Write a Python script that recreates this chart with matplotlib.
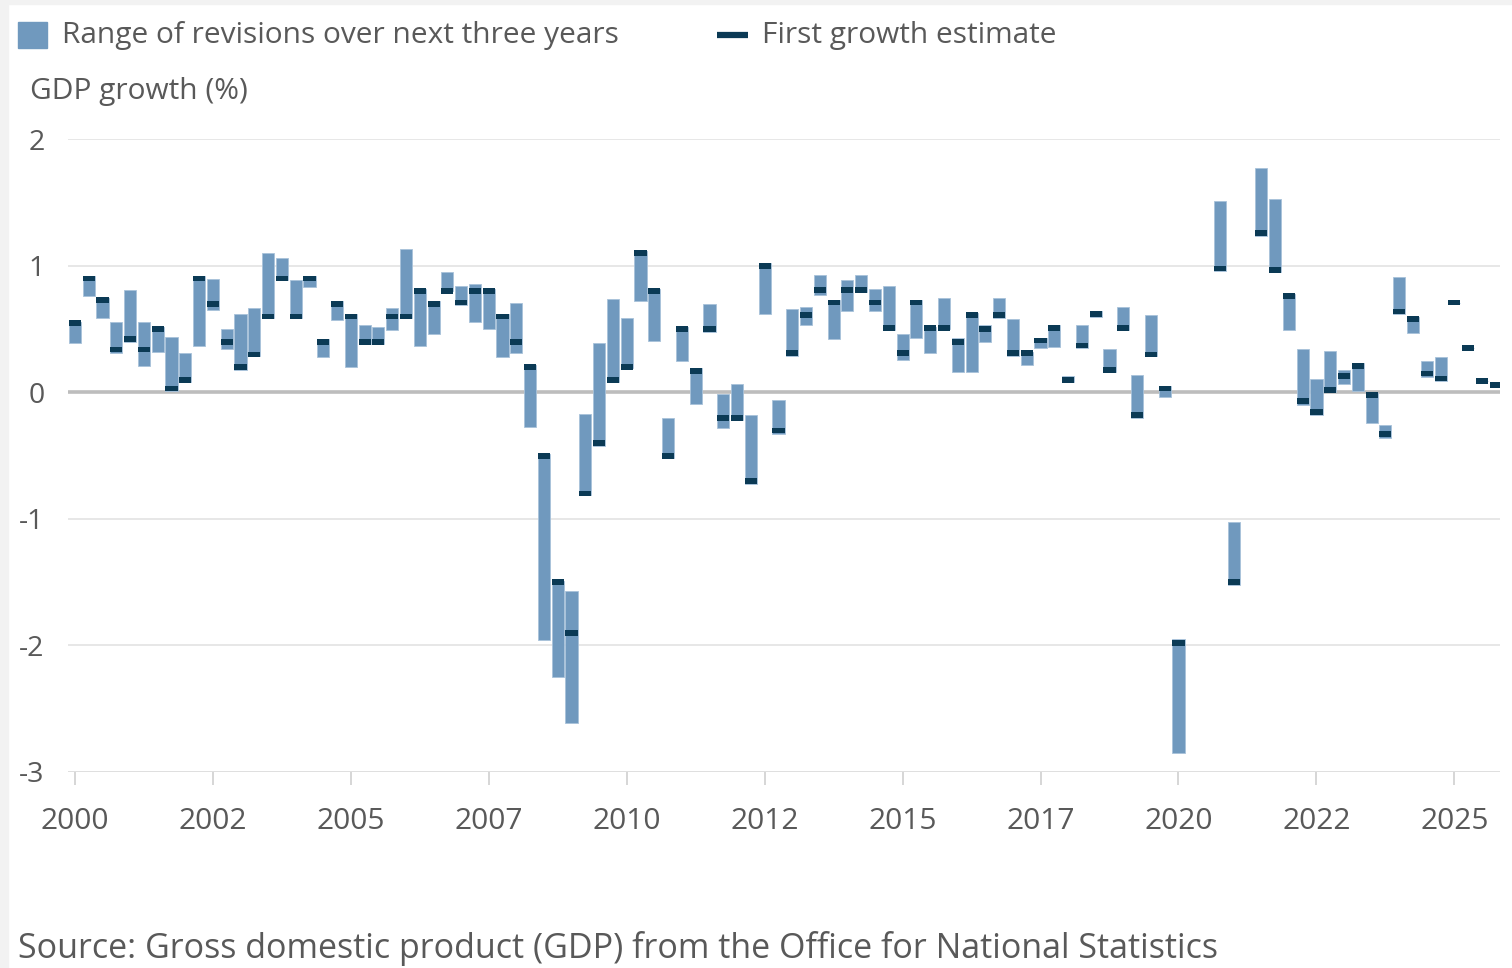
import numpy as np
import matplotlib.pyplot as plt
from matplotlib.patches import Rectangle
from matplotlib.lines import Line2D

plt.rcParams['font.family'] = ['Open Sans', 'DejaVu Sans']

# quarterly GDP growth, 2000 Q1 onwards (nan = off the chart)
low = [0.39, 0.76, 0.59, 0.31, 0.40, 0.21, 0.32, 0.01, 0.08, 0.37,
       0.65, 0.345, 0.18, 0.285, 0.59, 0.885, 0.59, 0.83, 0.28, 0.57,
       0.20, 0.385, 0.385, 0.495, 0.59, 0.37, 0.46, 0.80, 0.69, 0.56,
       0.50, 0.28, 0.31, -0.27, -1.96, -2.25, -2.61, -0.81, -0.42, 0.08,
       0.19, 0.72, 0.41, -0.52, 0.25, -0.09, 0.48, -0.28, -0.215, -0.72,
       0.62, -0.33, 0.285, 0.53, 0.77, 0.42, 0.645, 0.79, 0.645, 0.49,
       0.26, 0.43, 0.31, 0.50, 0.16, 0.16, 0.395, 0.59, 0.29, 0.22,
       0.35, 0.36, 0.08, 0.35, 0.60, 0.16, 0.49, -0.20, 0.285, -0.04,
       -2.85, np.nan, np.nan, 0.96, -1.525, np.nan, 1.24, 0.95, 0.495, -0.10,
       -0.18, 0.0, 0.07, 0.015, -0.24, -0.36, 0.62, 0.47, 0.125, 0.09,
       0.71, 0.35, 0.09, 0.06]
high = [0.56, 0.92, 0.75, 0.56, 0.81, 0.56, 0.52, 0.44, 0.31, 0.92,
        0.90, 0.50, 0.62, 0.67, 1.10, 1.06, 0.885, 0.92, 0.42, 0.72,
        0.62, 0.535, 0.52, 0.67, 1.135, 0.82, 0.72, 0.95, 0.84, 0.86,
        0.82, 0.62, 0.71, 0.22, -0.485, -1.49, -1.57, -0.17, 0.39, 0.735,
        0.59, 1.12, 0.82, -0.20, 0.52, 0.19, 0.70, -0.01, 0.07, -0.18,
        1.02, -0.06, 0.66, 0.675, 0.93, 0.73, 0.885, 0.93, 0.82, 0.84,
        0.46, 0.73, 0.52, 0.75, 0.43, 0.63, 0.53, 0.75, 0.58, 0.32,
        0.43, 0.53, 0.13, 0.53, 0.64, 0.34, 0.675, 0.14, 0.61, 0.05,
        -1.95, np.nan, np.nan, 1.51, -1.025, np.nan, 1.77, 1.53, 0.78, 0.34,
        0.11, 0.33, 0.18, 0.23, -0.005, -0.26, 0.91, 0.60, 0.245, 0.28,
        0.71, 0.35, 0.09, 0.06]
first = [0.55, 0.90, 0.73, 0.34, 0.42, 0.34, 0.50, 0.03, 0.10, 0.90,
         0.70, 0.40, 0.20, 0.30, 0.60, 0.90, 0.60, 0.90, 0.40, 0.70,
         0.60, 0.40, 0.40, 0.60, 0.60, 0.80, 0.70, 0.80, 0.71, 0.80,
         0.80, 0.60, 0.40, 0.20, -0.50, -1.50, -1.90, -0.80, -0.40, 0.10,
         0.20, 1.10, 0.80, -0.50, 0.50, 0.17, 0.50, -0.20, -0.20, -0.70,
         1.00, -0.30, 0.31, 0.61, 0.81, 0.71, 0.81, 0.81, 0.71, 0.51,
         0.31, 0.71, 0.51, 0.51, 0.40, 0.61, 0.50, 0.61, 0.31, 0.31,
         0.41, 0.51, 0.10, 0.37, 0.62, 0.18, 0.51, -0.18, 0.30, 0.03,
         -1.98, np.nan, np.nan, 0.98, -1.50, np.nan, 1.26, 0.97, 0.76, -0.07,
         -0.155, 0.02, 0.13, 0.21, -0.02, -0.33, 0.64, 0.58, 0.15, 0.11,
         0.71, 0.35, 0.09, 0.06]
tick_labels = ["2000", "2002", "2005", "2007", "2010", "2012",
               "2015", "2017", "2020", "2022", "2025"]

low = np.array(low); high = np.array(high); first = np.array(first)
x = np.arange(len(first))

RANGE_C = "#7099be"
EST_C = "#0b3a55"
TXT_C = "#595959"

fig = plt.figure(figsize=(15.12, 9.68), dpi=100)
ax = fig.add_axes([0.045, 0.2025, 0.947, 0.6535])

# light grey frame strips at top/left like the screenshot
fig.patches.append(Rectangle((0, 0), 0.005, 1, transform=fig.transFigure,
                             color="#f2f2f2", zorder=-1))
fig.patches.append(Rectangle((0, 0.996), 1, 0.004, transform=fig.transFigure,
                             color="#f2f2f2", zorder=-1))

for v in [-2, -1, 1, 2]:
    ax.axhline(v, color="#e3e3e3", lw=1.2, zorder=0)
ax.axhline(-3, color="#dcdcdc", lw=2, zorder=0)

ax.bar(x, high - low, bottom=low, width=0.88, color=RANGE_C,
       edgecolor="#a8c2da", linewidth=0.6, zorder=2)
dash_h = 0.045
ax.bar(x, dash_h, bottom=first - dash_h / 2, width=0.88, color=EST_C,
       linewidth=0, zorder=3)
ax.axhline(0, color="#bdbdbd", lw=2.6, zorder=1)

ax.set_xlim(-0.5, 103.3)
ax.set_ylim(-3, 2)
ax.set_yticks([-3, -2, -1, 0, 1, 2])
ax.set_yticklabels(["-3", "-2", "-1", "0", "1", "2"])
ax.set_xticks(np.arange(0, 101, 10))
ax.set_xticklabels(tick_labels)
for s in ax.spines.values():
    s.set_visible(False)
ax.tick_params(axis="y", length=0, pad=17, labelsize=20.5, labelcolor=TXT_C)
ax.tick_params(axis="x", length=9, width=1.2, color="#d0d0d0", pad=16,
               labelsize=21.5, labelcolor=TXT_C)

# legend + labels
fig.patches.append(Rectangle((18 / 1512, 1 - 48 / 968), 29 / 1512, 26 / 968,
                             transform=fig.transFigure, color=RANGE_C))
fig.text(62 / 1512, 1 - 36 / 968, "Range of revisions over next three years",
         fontsize=21.5, color=TXT_C, va="center", ha="left")
fig.lines.append(Line2D([717 / 1512, 748 / 1512], [1 - 35 / 968, 1 - 35 / 968],
                        transform=fig.transFigure, color=EST_C, lw=4.5,
                        solid_capstyle="butt"))
fig.text(762 / 1512, 1 - 36 / 968, "First growth estimate",
         fontsize=21.5, color=TXT_C, va="center", ha="left")
fig.text(30 / 1512, 1 - 92 / 968, "GDP growth (%)", fontsize=21.5,
         color=TXT_C, va="center", ha="left")
fig.text(18 / 1512, 1 - 948 / 968,
         "Source: Gross domestic product (GDP) from the Office for National Statistics",
         fontsize=24.5, color=TXT_C, va="center", ha="left")

fig.savefig("out.png", dpi=100)
